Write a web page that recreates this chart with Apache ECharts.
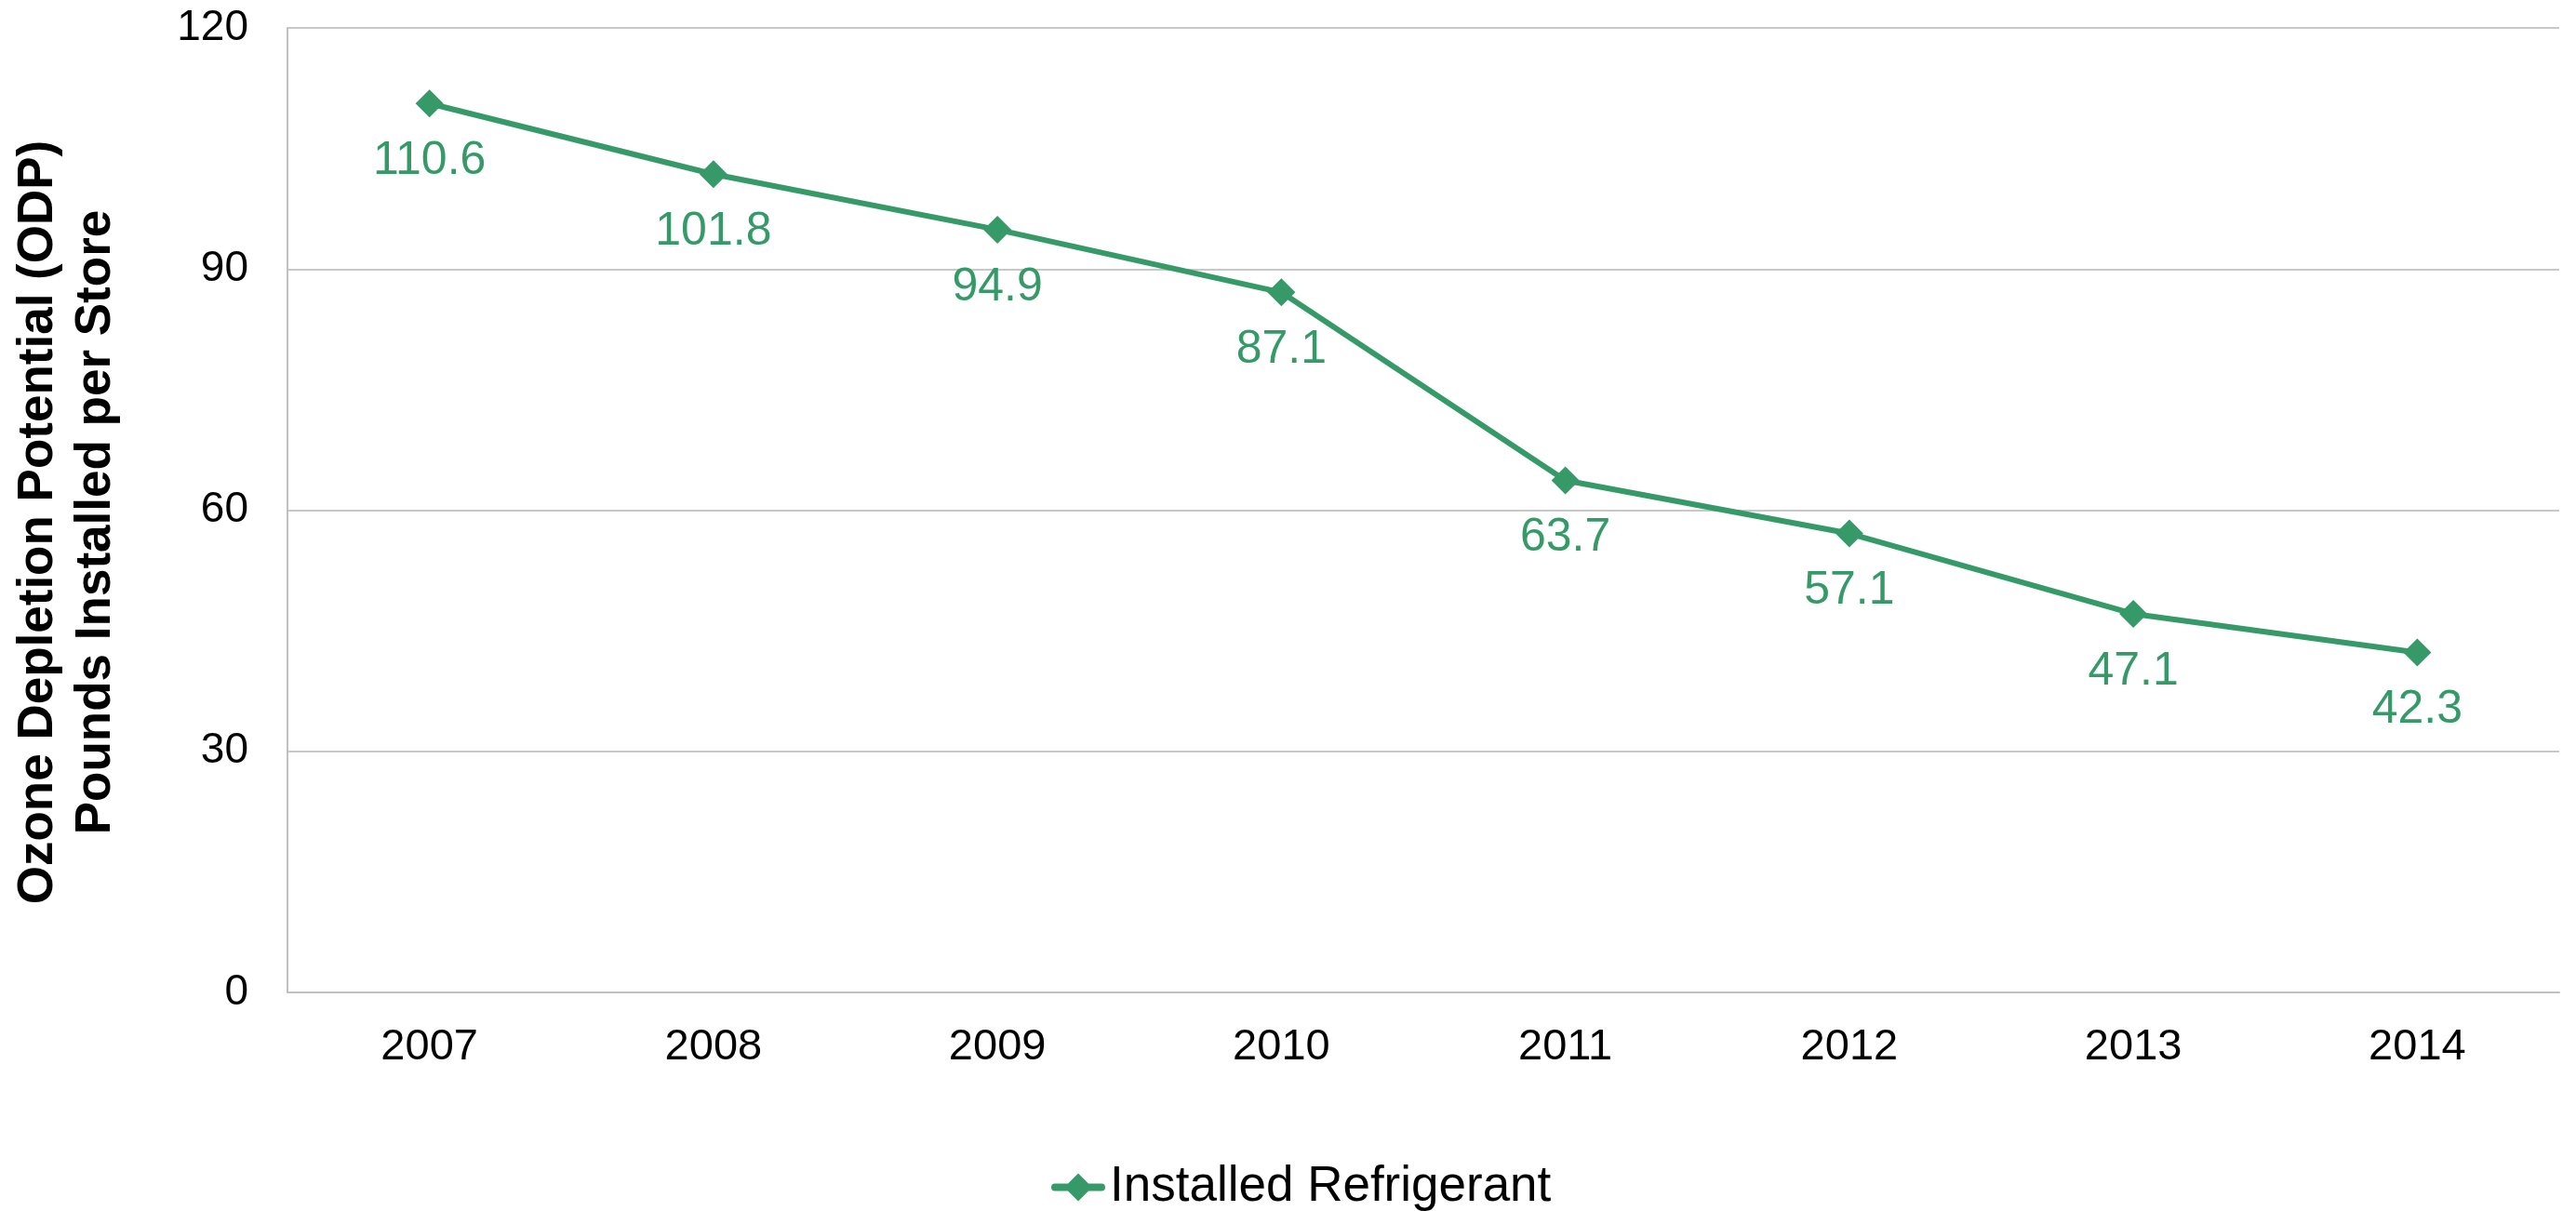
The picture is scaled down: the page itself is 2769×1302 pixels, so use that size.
<!DOCTYPE html>
<html>
<head>
<meta charset="utf-8">
<script src="https://cdn.jsdelivr.net/npm/echarts@6/dist/echarts.min.js"></script>
<style>
  html, body { margin: 0; padding: 0; background: #fff; }
  #main { width: 2769px; height: 1302px; }
</style>
</head>
<body>
<div id="main"></div>
<script>
const years = ["2007", "2008", "2009", "2010", "2011", "2012", "2013", "2014"];
const refrigerant = [110.6, 101.8, 94.9, 87.1, 63.7, 57.1, 47.1, 42.3];
const seriesName = "Installed Refrigerant";
const yTitle = "Ozone Depletion Potential (ODP)\nPounds Installed per Store";

const green = "#359A68";
const font = "Liberation Sans, Arial, sans-serif";
// line + diamond marker, like the excel legend key
const legendIcon =
  "path://M4,11 L18,11 L29,0 L40,11 L54,11 A4,4 0 0 1 54,19 L40,19 L29,30 L18,19 L4,19 A4,4 0 0 1 4,11 Z";

const chart = echarts.init(document.getElementById("main"));

chart.setOption({
  animation: false,
  grid: { left: 309, right: 18, top: 30, bottom: 235, containLabel: false },
  legend: {
    data: [{ name: seriesName, icon: legendIcon }],
    left: 1125,
    top: 1245,
    itemWidth: 58,
    itemHeight: 30,
    textStyle: { fontFamily: font, fontSize: 53, color: "#000" },
  },
  xAxis: {
    type: "category",
    data: years,
    boundaryGap: true,
    axisLine: { show: true, lineStyle: { color: "#c0c0c0", width: 2 } },
    axisTick: { show: false },
    axisLabel: { fontFamily: font, fontSize: 47, color: "#000", margin: 36 },
  },
  yAxis: {
    type: "value",
    min: 0,
    max: 120,
    interval: 30,
    name: yTitle,
    nameLocation: "middle",
    nameGap: 175,
    nameTextStyle: {
      fontFamily: font,
      fontSize: 53,
      fontWeight: "bold",
      color: "#000",
      lineHeight: 62,
      padding: [0, 26, 0, 0],
    },
    axisLine: { show: true, lineStyle: { color: "#c0c0c0", width: 2 } },
    axisTick: { show: false },
    axisLabel: { fontFamily: font, fontSize: 46, color: "#000", margin: 42 },
    splitLine: { show: true, lineStyle: { color: "#c8c8c8", width: 2 } },
  },
  series: [
    {
      name: seriesName,
      type: "line",
      data: refrigerant,
      symbol: "diamond",
      symbolSize: 30,
      itemStyle: { color: green },
      lineStyle: { color: green, width: 6 },
      label: {
        show: true,
        position: "bottom",
        distance: 22,
        fontFamily: font,
        fontSize: 50,
        color: green,
        formatter: (p) => p.value.toFixed(1),
      },
    },
  ],
});
</script>
</body>
</html>
